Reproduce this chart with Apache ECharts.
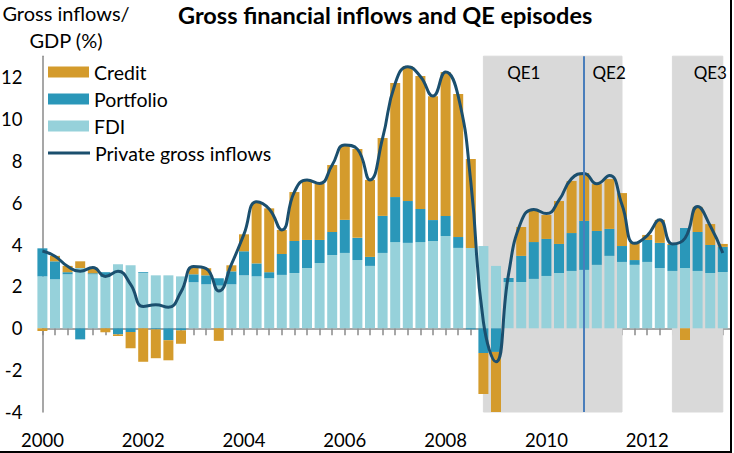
<!DOCTYPE html>
<html><head><meta charset="utf-8">
<script src="https://cdn.jsdelivr.net/npm/echarts@6/dist/echarts.min.js"></script>
<style>
html,body{margin:0;padding:0;background:#fff;}
#c{width:730px;height:451px;border-right:2px solid #000;border-bottom:2px solid #000;}
</style>
</head><body><div id="c"></div>
<script>
// Quarterly categories, 2000Q1 .. 2013Q3
const categories = [
 '2000Q1','2000Q2','2000Q3','2000Q4','2001Q1','2001Q2','2001Q3','2001Q4',
 '2002Q1','2002Q2','2002Q3','2002Q4','2003Q1','2003Q2','2003Q3','2003Q4',
 '2004Q1','2004Q2','2004Q3','2004Q4','2005Q1','2005Q2','2005Q3','2005Q4',
 '2006Q1','2006Q2','2006Q3','2006Q4','2007Q1','2007Q2','2007Q3','2007Q4',
 '2008Q1','2008Q2','2008Q3','2008Q4','2009Q1','2009Q2','2009Q3','2009Q4',
 '2010Q1','2010Q2','2010Q3','2010Q4','2011Q1','2011Q2','2011Q3','2011Q4',
 '2012Q1','2012Q2','2012Q3','2012Q4','2013Q1','2013Q2','2013Q3'
];
const fdi = [
 2.48,2.34,2.58,2.88,2.58,2.45,3.06,3.01,2.64,2.53,2.53,2.48,
 2.20,2.10,2.04,2.10,2.53,2.48,2.39,2.55,2.64,2.88,3.12,3.50,
 3.60,3.26,2.98,3.60,4.12,4.08,4.12,4.17,4.41,3.84,3.84,3.93,
 2.98,2.21,2.21,2.36,2.50,2.64,2.74,2.79,3.03,3.46,3.17,3.03,
 3.17,2.88,2.74,2.88,2.74,2.64,2.69
];
const portfolio = [
 1.34,0.86,0.10,-0.53,0.05,0.23,-0.29,-0.18,0.04,-0.05,-0.57,-0.10,
 0.38,0.43,0.35,0.62,1.15,0.62,0.29,1.00,1.53,1.34,1.10,1.10,
 1.58,1.06,0.43,1.77,2.15,2.00,1.58,1.00,0.96,0.52,-0.05,-1.18,
 -1.13,0.19,1.25,1.76,1.77,1.39,1.81,2.34,1.62,1.29,0.76,0.23,
 1.05,1.20,1.24,1.91,1.86,1.34,1.20
];
const credit = [
 -0.13,0.26,0.30,0.32,0.27,-0.19,-0.08,-0.78,-1.60,-1.38,-0.96,-0.64,
 0.33,0.34,-0.60,0.29,0.81,2.92,3.05,1.15,2.34,2.87,2.68,3.20,
 3.58,4.25,3.68,3.72,5.45,6.45,6.35,5.92,6.88,6.83,4.25,-1.96,
 -2.87,0.00,1.38,1.58,1.14,2.05,2.49,2.29,2.24,2.38,2.53,0.82,
 0.24,1.10,0.05,-0.56,1.20,1.00,0.14
];
const privateInflows = [
 3.69,3.44,2.96,2.72,2.90,2.48,2.72,2.10,1.04,1.12,1.00,1.74,
 2.95,2.85,1.78,3.05,4.50,6.05,5.70,4.70,6.52,7.09,6.92,7.80,
 8.76,8.56,7.09,9.08,11.70,12.50,12.03,11.10,12.25,11.10,7.00,0.30,
 -1.60,2.60,5.10,5.68,5.48,6.12,7.15,7.40,6.90,7.30,5.90,4.06,
 4.43,5.18,4.03,4.30,5.82,4.90,3.60
];
const yearTicks = ['2000','2002','2004','2006','2008','2010','2012'];
const yTicks = [-4,-2,0,2,4,6,8,10,12];
const qeNames = ['QE1','QE2','QE3'];
const qeStart = ['2008Q4','2010Q4','2012Q3'];
const qeEnd   = ['2010Q4','2011Q3','2013Q3'];

// styling
const FONT = 'Lato';
const C_CREDIT = '#d49b2c', C_PORT = '#2a97b9', C_FDI = '#96d1da', C_LINE = '#1b4f6e';
const C_QE = '#d9d9d9', C_QELINE = '#4a7ebb', C_AXIS = '#8a8a8a';
const qeLabelOffset = [-10, 6, 12.7];
const Y_MIN = -4, Y_MAX = 13;

// axis slots: the quarters plus one empty trailing slot (axis runs past the last bar)
const axisSlots = categories.concat(['']);
const idx = q => categories.indexOf(q);

const qeAreas = qeNames.map((n, k) => [
  { name: n, xAxis: idx(qeStart[k]), yAxis: Y_MAX,
    label: { offset: [qeLabelOffset[k], 0] } },
  { xAxis: idx(qeEnd[k]), yAxis: Y_MIN }
]);
const qe2 = idx(qeStart[1]);

const chart = echarts.init(document.getElementById('c'), null, { renderer: 'svg' });
chart.setOption({
  animation: false,
  title: {
    text: 'Gross financial inflows and QE episodes',
    left: 173, top: -2,
    textStyle: { fontFamily: FONT, fontSize: 23.5, fontWeight: 'bold', color: '#000' }
  },
  graphic: [
    { type: 'text', x: 66, y: 13, style: { text: 'Gross inflows/', fontFamily: FONT, fontSize: 20, fill: '#000', align: 'center', verticalAlign: 'middle' } },
    { type: 'text', x: 66, y: 40, style: { text: 'GDP (%)', fontFamily: FONT, fontSize: 20, fill: '#000', align: 'center', verticalAlign: 'middle' } }
  ],
  legend: [
    { data: ['Credit', 'Portfolio', 'FDI'], orient: 'vertical', left: 43, top: 57,
      itemWidth: 41, itemHeight: 11, itemGap: 7, icon: 'rect', selectedMode: false,
      textStyle: { fontFamily: FONT, fontSize: 19.5, color: '#000' } },
    { data: [{ name: 'Private gross inflows', icon: 'rect' }], orient: 'vertical', left: 43, top: 138,
      itemWidth: 42, itemHeight: 3, selectedMode: false,
      textStyle: { fontFamily: FONT, fontSize: 19.5, color: '#000' } }
  ],
  grid: { left: 42.4, width: 693, top: 56.2, bottom: 39, containLabel: false, outerBoundsMode: 'none' },
  xAxis: [
    { type: 'category', data: axisSlots, boundaryGap: false,
      axisLine: { show: true, onZero: true, lineStyle: { color: C_AXIS, width: 1.5 } },
      axisTick: { show: true, length: 7, interval: 0, lineStyle: { color: C_AXIS, width: 1.5 } },
      axisLabel: { show: false }, splitLine: { show: false } },
    { type: 'category', data: axisSlots, boundaryGap: false, position: 'bottom',
      axisLine: { show: false, onZero: false }, axisTick: { show: false },
      axisLabel: { show: true,
        interval: (i, v) => v.endsWith('Q1') && yearTicks.includes(v.slice(0, 4)),
        formatter: v => v.slice(0, 4),
        fontFamily: FONT, fontSize: 18.5, color: '#000', margin: 18 },
      splitLine: { show: false } }
  ],
  yAxis: {
    type: 'value', min: Y_MIN, max: Y_MAX, interval: 2,
    axisLine: { show: true, lineStyle: { color: C_AXIS, width: 1.5 } },
    axisTick: { show: false },
    axisLabel: { customValues: yTicks, fontFamily: FONT, fontSize: 18.5, color: '#000', margin: 20 },
    splitLine: { show: false }
  },
  series: [
    { name: 'FDI', type: 'bar', stack: 'total', barWidth: 10, data: fdi,
      itemStyle: { color: C_FDI }, emphasis: { disabled: true } },
    { name: 'Portfolio', type: 'bar', stack: 'total', barWidth: 10, data: portfolio,
      itemStyle: { color: C_PORT }, emphasis: { disabled: true } },
    { name: 'Credit', type: 'bar', stack: 'total', barWidth: 10, data: credit,
      itemStyle: { color: C_CREDIT }, emphasis: { disabled: true } },
    { name: 'Private gross inflows', type: 'line', data: privateInflows,
      smooth: 0.5, symbol: 'none', color: C_LINE, itemStyle: { color: C_LINE },
      lineStyle: { color: C_LINE, width: 3 }, emphasis: { disabled: true },
      markArea: { silent: true,
        itemStyle: { color: C_QE, borderColor: C_QE, borderWidth: 1 },
        label: { show: true, position: 'insideTop', distance: 8, fontFamily: FONT, fontSize: 17, color: '#000' },
        data: qeAreas },
      markLine: { silent: true, symbol: 'none', label: { show: false },
        lineStyle: { color: C_QELINE, width: 2, type: 'solid' },
        data: [[{ coord: [qe2 - 0.3, Y_MIN] }, { coord: [qe2, Y_MAX] }]] }
    }
  ]
});
</script></body></html>
